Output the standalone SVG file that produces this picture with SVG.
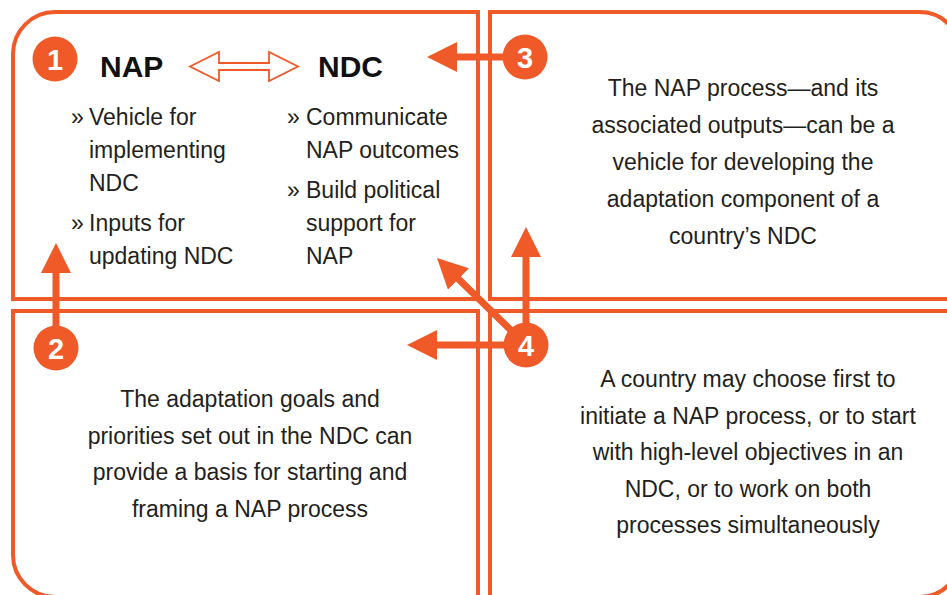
<svg xmlns="http://www.w3.org/2000/svg" width="947" height="595" viewBox="0 0 947 595">
<style>
.box{fill:#fff;stroke:#F05A28;stroke-width:4}
.con{stroke:#F05A28;stroke-width:7;fill:none}
.badge{fill:#F05A28}
.num{font-family:"Liberation Sans",Arial,sans-serif;font-weight:bold;font-size:29px;fill:#fff;text-anchor:middle}
.txt{font-family:"Liberation Sans",Arial,sans-serif;font-size:23px;fill:#231F20}
.mid{text-anchor:middle}
.head{font-family:"Liberation Sans",Arial,sans-serif;font-weight:bold;font-size:30px;fill:#111}
</style>
<defs>
<marker id="ah" markerUnits="userSpaceOnUse" markerWidth="30" markerHeight="30" viewBox="0 0 30 30" refX="10" refY="15" orient="auto">
<path d="M0,0 L30,15 L0,30 Z" fill="#F05A28"/>
</marker>
</defs>
<rect width="947" height="595" fill="#fff"/>
<g id="box1">
<path class="box" d="M13,299 L13,54 A42,42 0 0 1 55,12 L478,12 L478,299 Z"/>
<text class="head" x="100" y="77">NAP</text>
<text class="head" x="318" y="77">NDC</text>
<polygon points="190,66.5 219,52 219,63 269,63 269,52 298,66.5 269,81 269,70 219,70 219,81" fill="#fff" stroke="#F05A28" stroke-width="1.8" stroke-linejoin="miter"/>
<text class="txt" x="71" y="125">»<tspan x="89">Vehicle for</tspan></text>
<text class="txt" x="89" y="158">implementing</text>
<text class="txt" x="89" y="191">NDC</text>
<text class="txt" x="71" y="231">»<tspan x="89">Inputs for</tspan></text>
<text class="txt" x="89" y="264">updating NDC</text>
<text class="txt" x="287" y="125">»<tspan x="306">Communicate</tspan></text>
<text class="txt" x="306" y="158">NAP outcomes</text>
<text class="txt" x="287" y="198">»<tspan x="306">Build political</tspan></text>
<text class="txt" x="306" y="231">support for</text>
<text class="txt" x="306" y="264">NAP</text>
</g>
<g id="box3">
<path class="box" d="M490,12 L920,12 A40,40 0 0 1 960,52 L960,299 L490,299 Z"/>
<text class="txt mid" x="743" y="96">The NAP process—and its</text>
<text class="txt mid" x="743" y="133">associated outputs—can be a</text>
<text class="txt mid" x="743" y="170">vehicle for developing the</text>
<text class="txt mid" x="743" y="207">adaptation component of a</text>
<text class="txt mid" x="743" y="244">country’s NDC</text>
</g>
<g id="box2">
<path class="box" d="M13,311 L478,311 L478,597 L55,597 A42,42 0 0 1 13,555 Z"/>
<text class="txt mid" x="250" y="407">The adaptation goals and</text>
<text class="txt mid" x="250" y="444">priorities set out in the NDC can</text>
<text class="txt mid" x="250" y="480">provide a basis for starting and</text>
<text class="txt mid" x="250" y="517">framing a NAP process</text>
</g>
<g id="box4">
<path class="box" d="M490,311 L960,311 L960,557 A40,40 0 0 1 920,597 L490,597 Z"/>
<text class="txt mid" x="748" y="387">A country may choose first to</text>
<text class="txt mid" x="748" y="424">initiate a NAP process, or to start</text>
<text class="txt mid" x="748" y="460">with high-level objectives in an</text>
<text class="txt mid" x="748" y="497">NDC, or to work on both</text>
<text class="txt mid" x="748" y="533">processes simultaneously</text>
</g>
<g id="connectors">
<line class="con" x1="525" y1="57" x2="447" y2="57" marker-end="url(#ah)"/>
<line class="con" x1="56" y1="348" x2="56" y2="263" marker-end="url(#ah)"/>
<line class="con" x1="526" y1="345" x2="526" y2="247" marker-end="url(#ah)"/>
<line class="con" x1="526" y1="345" x2="427" y2="345" marker-end="url(#ah)"/>
<line class="con" x1="526" y1="345" x2="451.3" y2="272" marker-end="url(#ah)"/>
</g>
<g id="badge1">
<circle class="badge" cx="55" cy="59" r="22.5"/>
<text class="num" x="55" y="69.5">1</text>
</g>
<g id="badge2">
<circle class="badge" cx="56" cy="348" r="22.5"/>
<text class="num" x="56" y="358.5">2</text>
</g>
<g id="badge3">
<circle class="badge" cx="525" cy="57" r="22.5"/>
<text class="num" x="525" y="67.5">3</text>
</g>
<g id="badge4">
<circle class="badge" cx="526" cy="345" r="22.5"/>
<text class="num" x="526" y="355.5">4</text>
</g>
</svg>
